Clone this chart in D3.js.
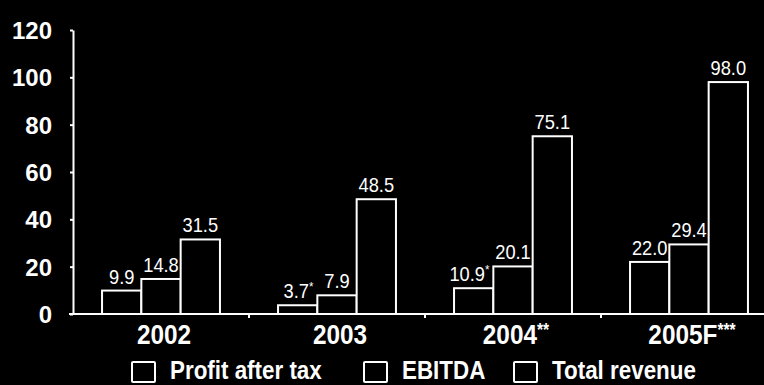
<!DOCTYPE html>
<html>
<head>
<meta charset="utf-8">
<script src="https://cdn.jsdelivr.net/npm/d3@7"></script>
<style>
  html, body { margin: 0; padding: 0; background: #000; }
  svg { display: block; }
  text { fill: #fff; font-family: "Liberation Sans", Arial, sans-serif; }
</style>
</head>
<body>
<svg id="chart" width="764" height="385"></svg>
<script>
// Financial summary by year (values in millions)
const categories = ["2002", "2003", "2004", "2005F"];
const categoryMarks = ["", "", "**", "***"];
const seriesNames = ["Profit after tax", "EBITDA", "Total revenue"];
const profitAfterTax = [9.9, 3.7, 10.9, 22.0];
const ebitda = [14.8, 7.9, 20.1, 29.4];
const totalRevenue = [31.5, 48.5, 75.1, 98.0];
// footnote markers attached to individual value labels
const profitMarks = ["", "*", "*", ""];
const ebitdaMarks = ["", "", "", ""];
const revenueMarks = ["", "", "", ""];
const yTicks = [0, 20, 40, 60, 80, 100, 120];

const series = [
  { name: seriesNames[0], values: profitAfterTax, marks: profitMarks },
  { name: seriesNames[1], values: ebitda, marks: ebitdaMarks },
  { name: seriesNames[2], values: totalRevenue, marks: revenueMarks }
];

const svg = d3.select("#chart");
const plotLeft = 73, plotRight = 777, plotTop = 30, plotBottom = 314;
const narrow = 0.87; // horizontal squeeze giving a condensed face

const x = d3.scaleBand().domain(categories).range([plotLeft, plotRight])
  .paddingInner(0.33).paddingOuter(0.165);
const xs = d3.scaleBand().domain(seriesNames).range([0, x.bandwidth()]).padding(0);
const y = d3.scaleLinear().domain([0, 120]).range([plotBottom, plotTop]);

// y axis
const yAxis = svg.append("g").attr("transform", `translate(${plotLeft},0)`)
  .call(d3.axisLeft(y).tickValues(yTicks).tickSize(3).tickSizeOuter(0).tickPadding(18));
yAxis.select(".domain").attr("stroke", "#fff").attr("stroke-width", 2);
yAxis.selectAll(".tick line").attr("stroke", "#fff").attr("stroke-width", 2);
yAxis.selectAll(".tick text")
  .attr("font-size", 24).attr("font-weight", "bold").attr("fill", "#fff")
  .attr("dy", "0.36em");

// x axis baseline with small separators between years
const step = x.step();
svg.append("line").attr("x1", plotLeft - 4).attr("x2", 764)
  .attr("y1", y(0)).attr("y2", y(0)).attr("stroke", "#fff").attr("stroke-width", 2);
svg.append("g").selectAll("line").data(categories.slice(1)).join("line")
  .attr("x1", d => x(d) - (step - x.bandwidth()) / 2)
  .attr("x2", d => x(d) - (step - x.bandwidth()) / 2)
  .attr("y1", y(0)).attr("y2", y(0) + 4)
  .attr("stroke", "#fff").attr("stroke-width", 2);

// category labels
const cat = svg.append("g").selectAll("text")
  .data(categories.map((c, i) => ({ c, m: categoryMarks[i] })))
  .join("text")
  .attr("transform", d => `translate(${x(d.c) + x.bandwidth() / 2 + 3},344) scale(${narrow},1)`)
  .attr("text-anchor", "middle")
  .attr("font-size", 28).attr("font-weight", "bold");
cat.append("tspan").text(d => d.c);
cat.append("tspan").attr("font-size", 18).attr("dy", -8).text(d => d.m);

// bars
series.forEach(s => {
  const rows = categories.map((c, i) => ({ c, v: s.values[i] }));
  svg.append("g").selectAll("rect").data(rows).join("rect")
    .attr("x", d => x(d.c) + xs(s.name))
    .attr("y", d => y(d.v))
    .attr("width", xs.bandwidth())
    .attr("height", d => y(0) - y(d.v))
    .attr("fill", "#000").attr("stroke", "#fff").attr("stroke-width", 2);
});

// value labels, drawn over all bars; labels carrying a footnote mark are
// right-aligned inside their bar's width so the mark clears the next bar
series.forEach(s => {
  const rows = categories.map((c, i) => ({ c, v: s.values[i], m: s.marks[i] }));
  const t = svg.append("g").selectAll("text").data(rows).join("text")
    .attr("transform", d => {
      const bx = x(d.c) + xs(s.name);
      const tx = d.m ? bx + xs.bandwidth() - 4 : bx + xs.bandwidth() / 2;
      return `translate(${tx},${y(d.v) - 7}) scale(${narrow},1)`;
    })
    .attr("text-anchor", d => d.m ? "end" : "middle")
    .attr("font-size", 21);
  t.append("tspan").text(d => d.v.toFixed(1));
  t.append("tspan").attr("font-size", 13).attr("dy", -7).text(d => d.m);
});

// legend
const legendItems = [
  { name: seriesNames[0], x: 131 },
  { name: seriesNames[1], x: 363 },
  { name: seriesNames[2], x: 513 }
];
const lg = svg.append("g").selectAll("g").data(legendItems).join("g")
  .attr("transform", d => `translate(${d.x},361)`);
lg.append("rect").attr("x", 1).attr("y", 1).attr("width", 23).attr("height", 20)
  .attr("rx", 1)
  .attr("fill", "#000").attr("stroke", "#fff").attr("stroke-width", 2);
lg.append("text")
  .attr("transform", `translate(39,18) scale(${narrow * 1.03},1)`)
  .attr("font-size", 25).attr("font-weight", "bold")
  .text(d => d.name);
</script>
</body>
</html>
